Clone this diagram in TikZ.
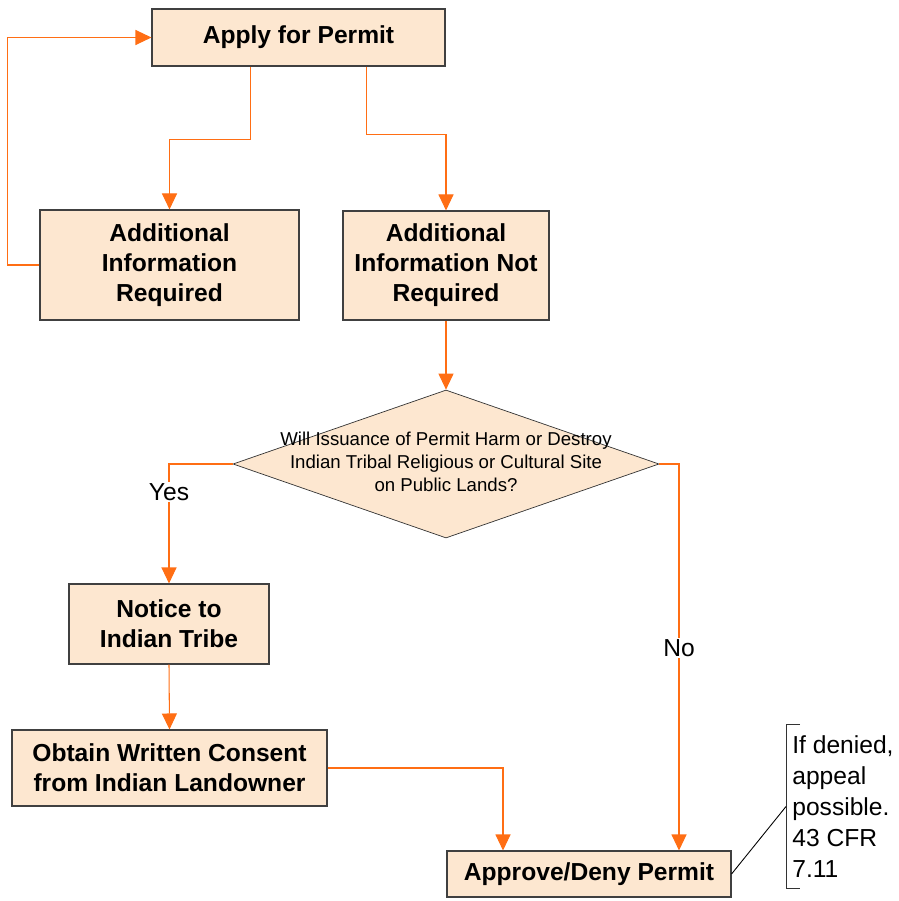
\documentclass[tikz,border=0pt]{standalone}
\usepackage{fontspec}
\setmainfont{Liberation Sans}
\usetikzlibrary{arrows.meta,shapes.geometric}
\definecolor{boxfill}{RGB}{253,231,208}
\definecolor{flowline}{RGB}{255,110,20}
\tikzset{
	stepbox/.style={draw=black!75, line width=0.6pt, fill=boxfill, font=\fontsize{14}{17}\selectfont\bfseries, align=center, inner sep=0pt},
	decision/.style={diamond, draw=black!80, line width=0.4pt, fill=boxfill, inner sep=0pt, font=\fontsize{10.6}{13.2}\selectfont},
	flow/.style={draw=flowline, line width=0.6pt, -{Triangle[length=0.32cm, width=0.3cm]}},
	flowlabel/.style={fill=white, inner sep=1pt, font=\fontsize{14}{16}\selectfont}
}
\begin{document}
\begin{tikzpicture}
		%%%%% START %%%%%
		\useasboundingbox (0, 0) rectangle (17.96, -18.02);
		
		\node[stepbox, minimum width=5.86cm, minimum height=1.14cm] (apply) at (5.97, -0.75) {Apply for Permit};
		
		\node[stepbox, minimum width=5.18cm, minimum height=2.2cm] (addreq) at (3.39, -5.3) {Additional\\Information\\Required};
		\node[stepbox, minimum width=4.12cm, minimum height=2.18cm] (addnot) at (8.92, -5.31) {Additional\\Information Not\\Required};
		
		\node[decision, minimum width=8.52cm, minimum height=2.96cm] (decide) at (8.92, -9.28)
			{\makebox[0pt]{\begin{tabular}{@{}c@{}}Will Issuance of Permit Harm or Destroy\\Indian Tribal Religious or Cultural Site\\on Public Lands?\end{tabular}}};
		
		\node[stepbox, minimum width=4cm, minimum height=1.6cm] (notice) at (3.38, -12.48) {Notice to\\Indian Tribe};
		\node[stepbox, minimum width=6.3cm, minimum height=1.52cm] (obtain) at (3.39, -15.36) {Obtain Written Consent\\from Indian Landowner};
		\node[stepbox, minimum width=5.68cm, minimum height=0.92cm] (approve) at (11.78, -17.48) {Approve/Deny Permit};
		
		\node[anchor=west, align=left, inner xsep=0.12cm, inner ysep=0pt, minimum height=3.26cm, font=\fontsize{14}{17.6}\selectfont] (appeal) at (15.72, -16.13)
			{If denied,\\appeal\\possible.\\43 CFR\\7.11};
		
		% connectors
		\draw[flow] ([xshift=-0.96cm]apply.south) -- ++(0, -1.46) -| (addreq.north);
		\draw[flow] ([xshift=1.36cm]apply.south) -- ++(0, -1.36) -| (addnot.north);
		\draw[flow] (addreq.west) -- ++(-0.64, 0) |- (apply.west);
		\draw[flow] (addnot.south) -- (decide.north);
		\draw[flow] (decide.west) -| (notice.north) node[flowlabel, pos=0.617] {Yes};
		\draw[flow] (decide.east) -| ([xshift=1.8cm]approve.north) node[flowlabel, pos=0.738] {No};
		\draw[flow] (notice.south) -- (obtain.north);
		\draw[flow] (obtain.east) -| ([xshift=-1.72cm]approve.north);
		
		% note bracket
		\draw[line width=0.5pt, color=black!80] ([xshift=0.28cm]appeal.north west) -- (appeal.north west) -- (appeal.south west) -- ++(0.28, 0);
		\draw[line width=0.5pt] (approve.east) -- (appeal.west);
		
		%%%%% END %%%%%
	\end{tikzpicture}
\end{document}
